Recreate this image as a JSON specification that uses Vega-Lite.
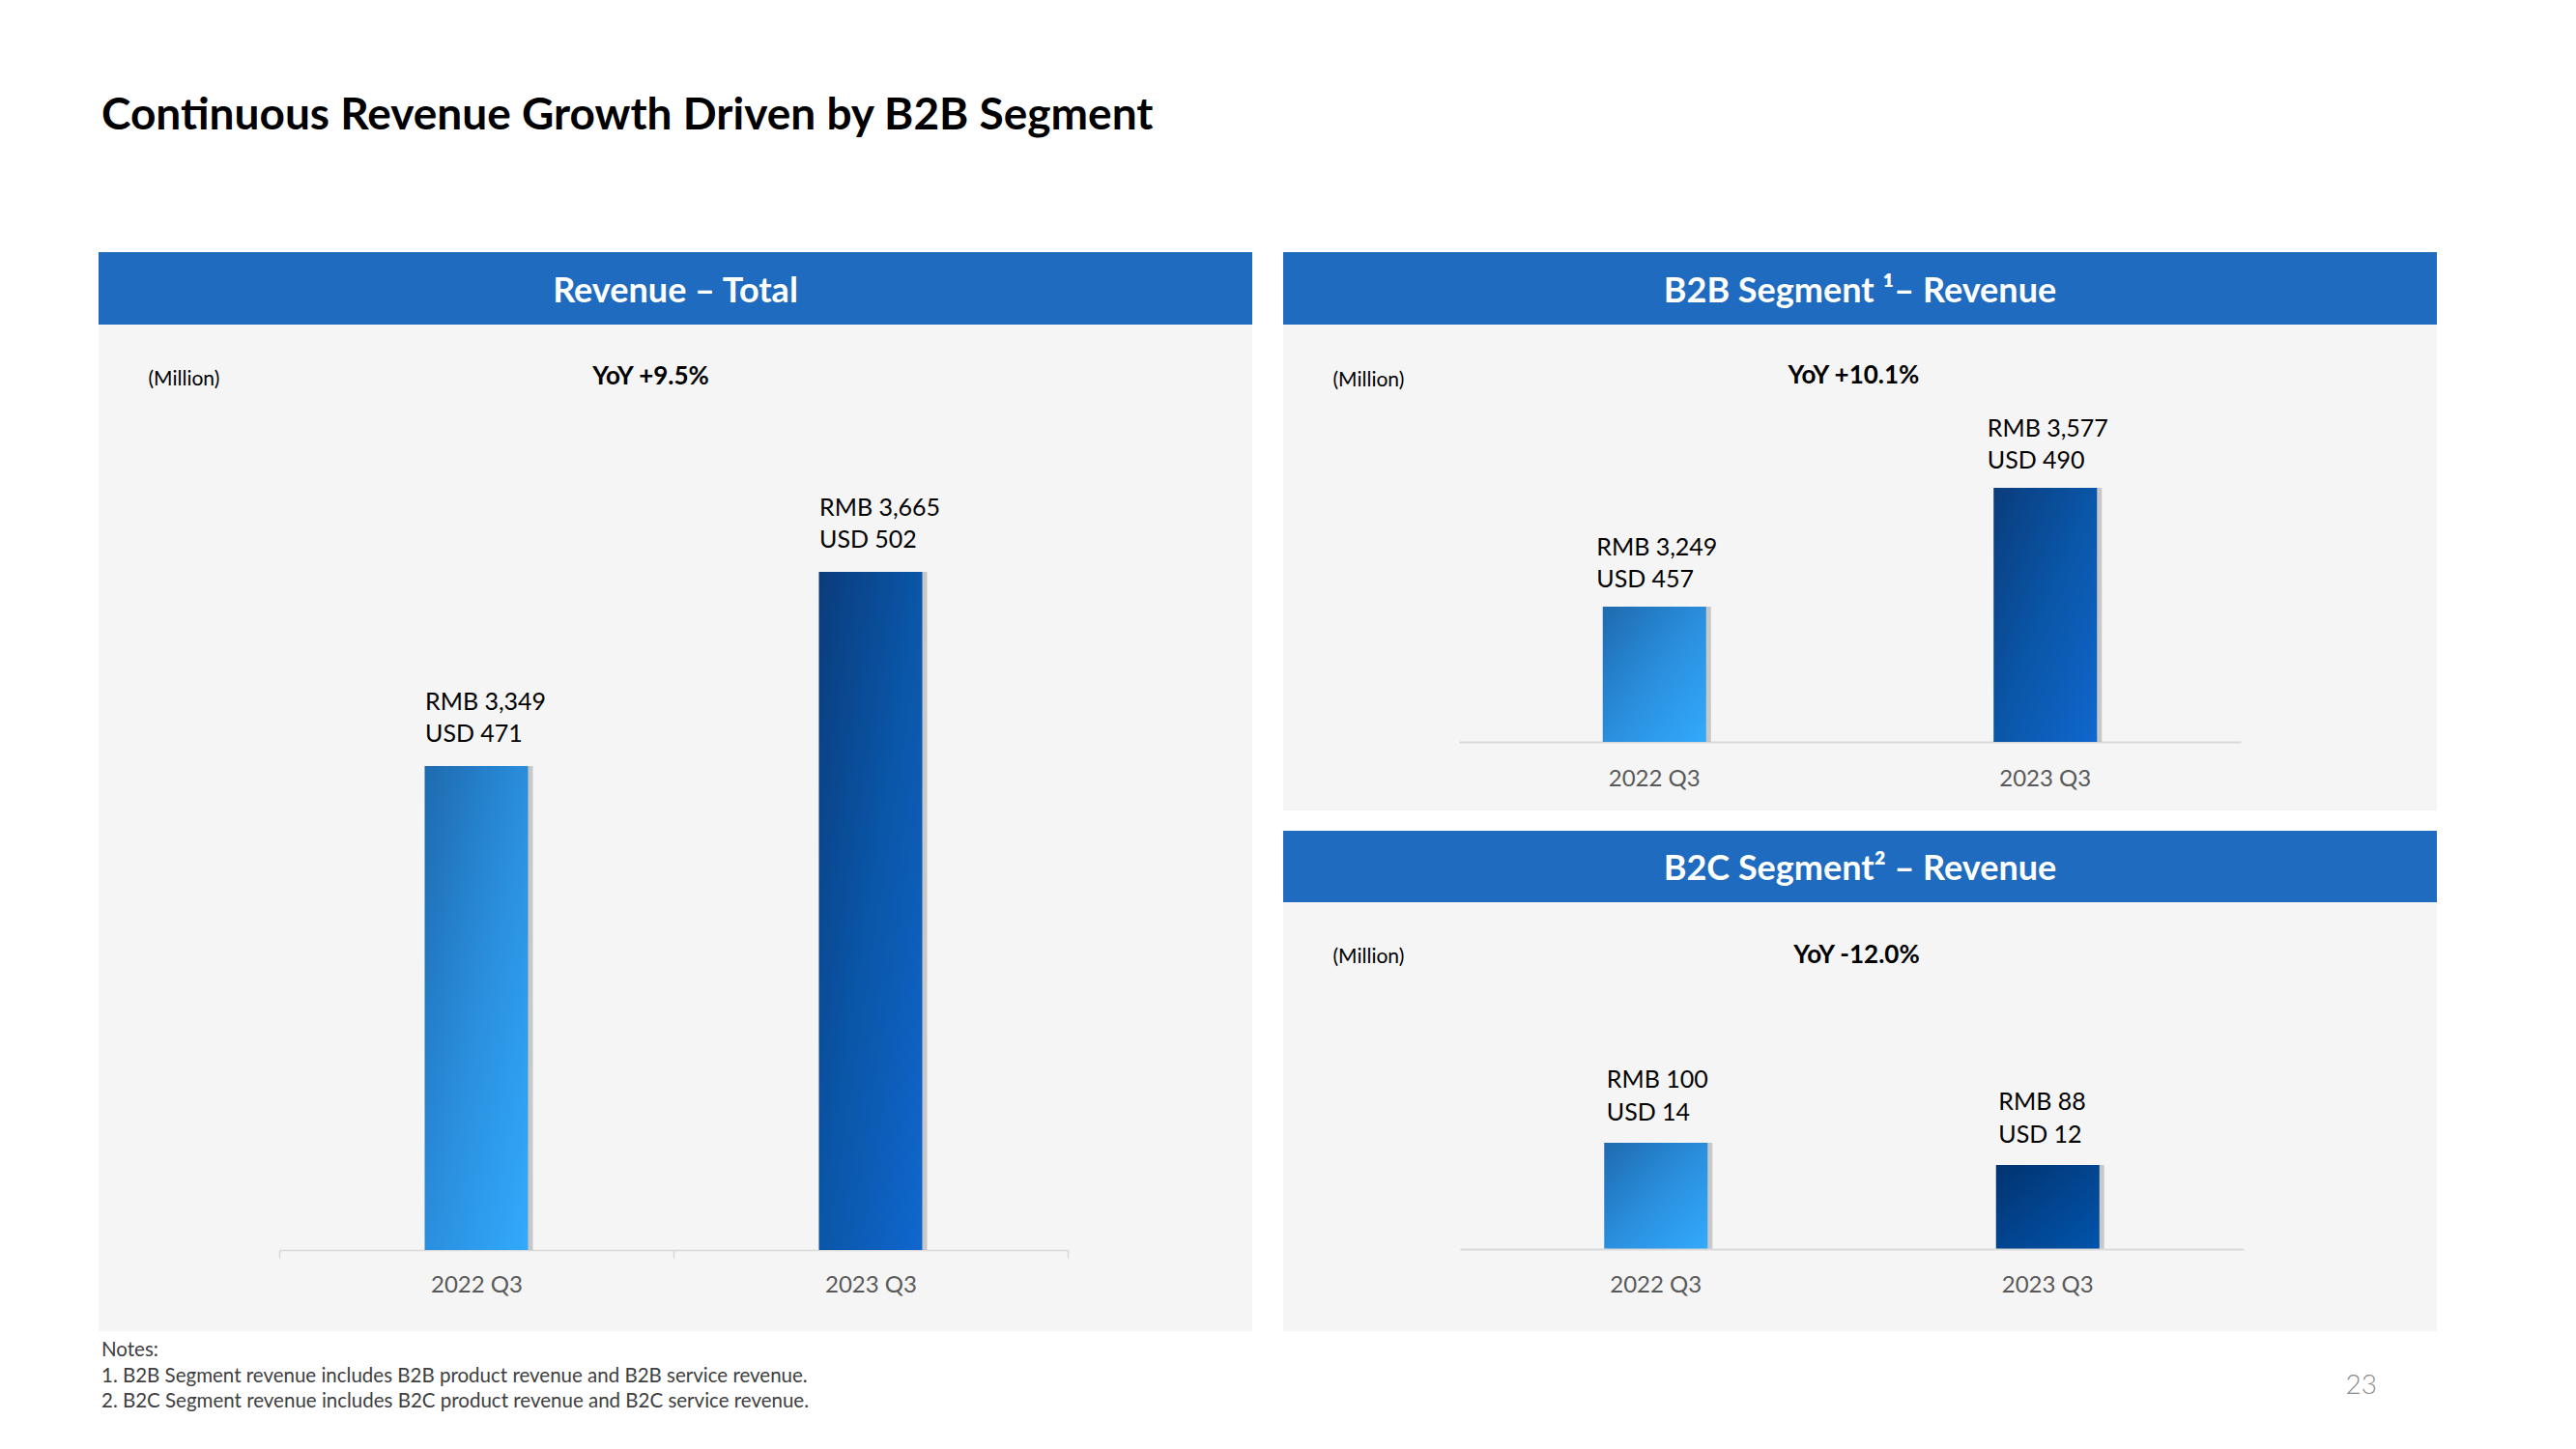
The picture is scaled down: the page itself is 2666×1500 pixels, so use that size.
{
  "$schema": "https://vega.github.io/schema/vega-lite/v6.json",
  "background": "white",
  "padding": {"left": 102, "top": 97, "right": 0, "bottom": 0},
  "config": {"font": "Lato", "view": {"stroke": null}},
  "title": {"text": "Continuous Revenue Growth Driven by B2B Segment", "anchor": "start", "fontSize": 46, "fontWeight": "bold", "color": "#000000", "offset": 117, "dx": 3},
  "datasets": {
    "total": [
      {"period": "2022 Q3", "rmb": 3349, "usd": 471, "rmbText": "RMB 3,349", "usdText": "USD 471"},
      {"period": "2023 Q3", "rmb": 3665, "usd": 502, "rmbText": "RMB 3,665", "usdText": "USD 502"}
    ],
    "b2b": [
      {"period": "2022 Q3", "rmb": 3249, "usd": 457, "rmbText": "RMB 3,249", "usdText": "USD 457"},
      {"period": "2023 Q3", "rmb": 3577, "usd": 490, "rmbText": "RMB 3,577", "usdText": "USD 490"}
    ],
    "b2c": [
      {"period": "2022 Q3", "rmb": 100, "usd": 14, "rmbText": "RMB 100", "usdText": "USD 14"},
      {"period": "2023 Q3", "rmb": 88, "usd": 12, "rmbText": "RMB 88", "usdText": "USD 12"}
    ]
  },
  "hconcat": [
    {
      "vconcat": [
        {
          "width": 1194, "height": 75,
          "view": {"fill": "#1F6BBF", "stroke": null},
          "data": {"values": [{"panel": "Revenue – Total"}]},
          "mark": {"type": "text", "color": "#FFFFFF", "fontSize": 36, "fontWeight": "bold", "baseline": "middle", "dy": 3},
          "encoding": {"text": {"field": "panel"}}
        },
        {
          "width": 1194, "height": 1042,
          "view": {"fill": "#F5F5F5", "stroke": null},
          "data": {"name": "total"},
          "title": {"text": ["Notes:", "1. B2B Segment revenue includes B2B product revenue and B2B service revenue.", "2. B2C Segment revenue includes B2C product revenue and B2C service revenue."], "orient": "bottom", "anchor": "start", "fontSize": 20.5, "fontWeight": "normal", "color": "#404040", "lineHeight": 26.5, "offset": 10, "dx": 3},
          "encoding": {
            "x": {"field": "period", "type": "nominal", "sort": null,
              "scale": {"type": "band", "range": [187, 1003], "paddingInner": 0, "paddingOuter": 0},
              "axis": {"title": "YoY +9.5%", "titleX": 571, "titleY": -905, "titleFontSize": 26, "titleFontWeight": "bold", "titleColor": "#000000", "titleAlign": "center", "titleBaseline": "middle", "offset": -84, "labelAngle": 0, "labelFontSize": 24, "labelColor": "#595959", "labelPadding": 16, "domainColor": "#D9D9D9", "domainWidth": 1.5, "tickColor": "#D9D9D9", "tickSize": 8, "tickWidth": 1.5, "tickBand": "extent", "grid": false}},
            "y": {"field": "rmb", "type": "quantitative",
              "scale": {"domain": [2429.3, 4067.5], "zero": false, "nice": false},
              "axis": {"title": "(Million)", "domain": false, "ticks": false, "labels": false, "grid": false, "titleAngle": 0, "titleX": 51, "titleY": 56, "titleAlign": "left", "titleBaseline": "middle", "titleFontSize": 21, "titleFontWeight": "normal", "titleColor": "#000000"}}
          },
          "layer": [
            {"mark": {"type": "bar", "width": 107, "xOffset": 5, "color": "#9C9C9C", "opacity": 0.5}, "encoding": {"y2": {"datum": 2561.4}}},
            {"transform": [{"filter": "datum.period === '2022 Q3'"}], "mark": {"type": "bar", "width": 107, "color": {"gradient": "linear", "x1": 0, "y1": 0, "x2": 1, "y2": 1, "stops": [{"offset": 0, "color": "#1E6AAE"}, {"offset": 0.5, "color": "#2A8EDD"}, {"offset": 1, "color": "#33AAFC"}]}}, "encoding": {"y2": {"datum": 2561.4}}},
            {"transform": [{"filter": "datum.period === '2023 Q3'"}], "mark": {"type": "bar", "width": 107, "color": {"gradient": "linear", "x1": 0, "y1": 0, "x2": 1, "y2": 1, "stops": [{"offset": 0, "color": "#0A3C7C"}, {"offset": 0.5, "color": "#0A56A8"}, {"offset": 1, "color": "#1067CE"}]}}, "encoding": {"y2": {"datum": 2561.4}}},
            {"mark": {"type": "text", "align": "left", "baseline": "middle", "dx": -53, "dy": -66, "fontSize": 25, "color": "#000000"}, "encoding": {"text": {"field": "rmbText"}}},
            {"mark": {"type": "text", "align": "left", "baseline": "middle", "dx": -53, "dy": -33, "fontSize": 25, "color": "#000000"}, "encoding": {"text": {"field": "usdText"}}}
          ]
        }
      ],
      "spacing": 0
    },
    {
      "vconcat": [
        {
          "vconcat": [
            {
              "width": 1194, "height": 75,
              "view": {"fill": "#1F6BBF", "stroke": null},
              "data": {"values": [{"panel": "B2B Segment ¹– Revenue"}]},
              "mark": {"type": "text", "color": "#FFFFFF", "fontSize": 36, "fontWeight": "bold", "baseline": "middle", "dy": 3},
              "encoding": {"text": {"field": "panel"}}
            },
            {
              "width": 1194, "height": 503,
              "view": {"fill": "#F5F5F5", "stroke": null},
              "data": {"name": "b2b"},
              "encoding": {
                "x": {"field": "period", "type": "nominal", "sort": null,
                  "scale": {"type": "band", "range": [182, 991], "paddingInner": 0, "paddingOuter": 0},
                  "axis": {"title": "YoY +10.1%", "titleX": 590, "titleY": -380, "titleFontSize": 26, "titleFontWeight": "bold", "titleColor": "#000000", "titleAlign": "center", "titleBaseline": "middle", "offset": -71, "labelAngle": 0, "labelFontSize": 24, "labelColor": "#595959", "labelPadding": 26, "domainColor": "#D9D9D9", "domainWidth": 2, "ticks": false, "grid": false}},
                "y": {"field": "rmb", "type": "quantitative",
                  "scale": {"domain": [2686.4, 4027.7], "zero": false, "nice": false},
                  "axis": {"title": "(Million)", "domain": false, "ticks": false, "labels": false, "grid": false, "titleAngle": 0, "titleX": 51, "titleY": 57, "titleAlign": "left", "titleBaseline": "middle", "titleFontSize": 21, "titleFontWeight": "normal", "titleColor": "#000000"}}
              },
              "layer": [
                {"mark": {"type": "bar", "width": 107, "xOffset": 5, "color": "#9C9C9C", "opacity": 0.5}, "encoding": {"y2": {"datum": 2875.7}}},
                {"transform": [{"filter": "datum.period === '2022 Q3'"}], "mark": {"type": "bar", "width": 107, "color": {"gradient": "linear", "x1": 0, "y1": 0, "x2": 1, "y2": 1, "stops": [{"offset": 0, "color": "#1E6AAE"}, {"offset": 0.5, "color": "#2A8EDD"}, {"offset": 1, "color": "#33AAFC"}]}}, "encoding": {"y2": {"datum": 2875.7}}},
                {"transform": [{"filter": "datum.period === '2023 Q3'"}], "mark": {"type": "bar", "width": 107, "color": {"gradient": "linear", "x1": 0, "y1": 0, "x2": 1, "y2": 1, "stops": [{"offset": 0, "color": "#0A3C7C"}, {"offset": 0.5, "color": "#0A56A8"}, {"offset": 1, "color": "#1067CE"}]}}, "encoding": {"y2": {"datum": 2875.7}}},
                {"mark": {"type": "text", "align": "left", "baseline": "middle", "dx": -60, "dy": -61, "fontSize": 25, "color": "#000000"}, "encoding": {"text": {"field": "rmbText"}}},
                {"mark": {"type": "text", "align": "left", "baseline": "middle", "dx": -60, "dy": -28, "fontSize": 25, "color": "#000000"}, "encoding": {"text": {"field": "usdText"}}}
              ]
            }
          ],
          "spacing": 0
        },
        {
          "vconcat": [
            {
              "width": 1194, "height": 74,
              "view": {"fill": "#1F6BBF", "stroke": null},
              "data": {"values": [{"panel": "B2C Segment² – Revenue"}]},
              "mark": {"type": "text", "color": "#FFFFFF", "fontSize": 36, "fontWeight": "bold", "baseline": "middle", "dy": 3},
              "encoding": {"text": {"field": "panel"}}
            },
            {
              "width": 1194, "height": 444,
              "view": {"fill": "#F5F5F5", "stroke": null},
              "data": {"name": "b2c"},
              "title": {"text": "23", "orient": "bottom", "anchor": "end", "fontSize": 28, "fontWeight": 300, "color": "#8C8C8C", "offset": 43, "dx": -62},
              "encoding": {
                "x": {"field": "period", "type": "nominal", "sort": null,
                  "scale": {"type": "band", "range": [183, 994], "paddingInner": 0, "paddingOuter": 0},
                  "axis": {"title": "YoY -12.0%", "titleX": 593, "titleY": -305, "titleFontSize": 26, "titleFontWeight": "bold", "titleColor": "#000000", "titleAlign": "center", "titleBaseline": "middle", "offset": -85, "labelAngle": 0, "labelFontSize": 24, "labelColor": "#595959", "labelPadding": 25, "domainColor": "#D9D9D9", "domainWidth": 2, "ticks": false, "grid": false}},
                "y": {"field": "rmb", "type": "quantitative",
                  "scale": {"domain": [-1.8, 229.9], "zero": false, "nice": false},
                  "axis": {"title": "(Million)", "domain": false, "ticks": false, "labels": false, "grid": false, "titleAngle": 0, "titleX": 51, "titleY": 56, "titleAlign": "left", "titleBaseline": "middle", "titleFontSize": 21, "titleFontWeight": "normal", "titleColor": "#000000"}}
              },
              "layer": [
                {"mark": {"type": "bar", "width": 107, "xOffset": 5, "color": "#9C9C9C", "opacity": 0.5}, "encoding": {"y2": {"datum": 42.8}}},
                {"transform": [{"filter": "datum.period === '2022 Q3'"}], "mark": {"type": "bar", "width": 107, "color": {"gradient": "linear", "x1": 0, "y1": 0, "x2": 1, "y2": 1, "stops": [{"offset": 0, "color": "#1E6AAE"}, {"offset": 0.5, "color": "#2A8EDD"}, {"offset": 1, "color": "#33AAFC"}]}}, "encoding": {"y2": {"datum": 42.8}}},
                {"transform": [{"filter": "datum.period === '2023 Q3'"}], "mark": {"type": "bar", "width": 107, "color": {"gradient": "linear", "x1": 0, "y1": 0, "x2": 1, "y2": 1, "stops": [{"offset": 0, "color": "#02336E"}, {"offset": 0.5, "color": "#02448F"}, {"offset": 1, "color": "#0054AB"}]}}, "encoding": {"y2": {"datum": 42.8}}},
                {"mark": {"type": "text", "align": "left", "baseline": "middle", "dx": -51, "dy": -65, "fontSize": 25, "color": "#000000"}, "encoding": {"text": {"field": "rmbText"}}},
                {"mark": {"type": "text", "align": "left", "baseline": "middle", "dx": -51, "dy": -31, "fontSize": 25, "color": "#000000"}, "encoding": {"text": {"field": "usdText"}}}
              ]
            }
          ],
          "spacing": 0
        }
      ],
      "spacing": 21
    }
  ],
  "spacing": 32
}
